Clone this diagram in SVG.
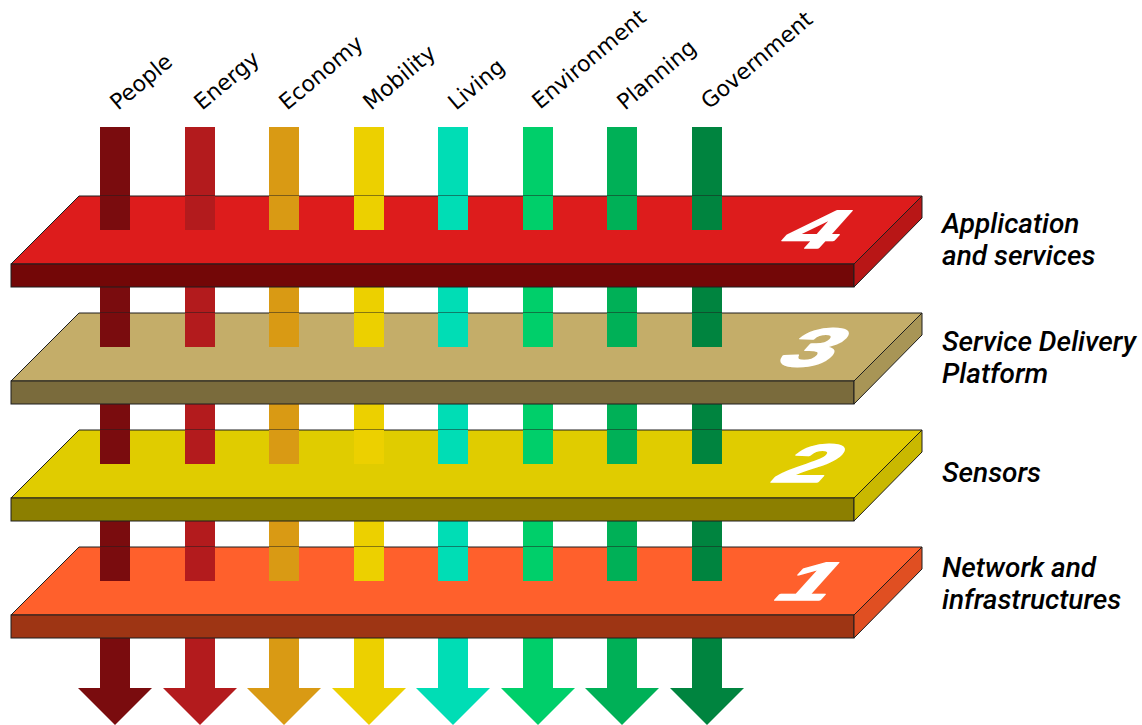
<svg xmlns="http://www.w3.org/2000/svg" width="1142" height="725" viewBox="0 0 1142 725">
<style>
.edge{stroke:#1e1e1e;stroke-width:1;stroke-linejoin:miter}
.cat{font-family:"DejaVu Sans",sans-serif;font-size:22px;fill:#000}
.lbl{font-family:Roboto,"Liberation Sans",sans-serif;font-style:italic;font-weight:500;font-size:28px;fill:#000}
.num{font-family:"Liberation Sans",Arial,sans-serif;font-weight:bold;font-size:54px;fill:#fff;stroke:#fff;stroke-width:1.6;stroke-linejoin:round}
.c1{fill:#7a0c0e}.c2{fill:#b31b1d}.c3{fill:#d99a14}.c4{fill:#ecd000}
.c5{fill:#00ddb5}.c6{fill:#00cf6a}.c7{fill:#00b057}.c8{fill:#00843f}
</style>
<rect width="1142" height="725" fill="#fff"/>

<!-- category labels -->
<g id="labels">
<text class="cat" transform="translate(118,111) rotate(-40)">People</text>
<text class="cat" transform="translate(202,111) rotate(-40)">Energy</text>
<text class="cat" transform="translate(287,111) rotate(-40)">Economy</text>
<text class="cat" transform="translate(371,111) rotate(-40)">Mobility</text>
<text class="cat" transform="translate(456,111) rotate(-40)">Living</text>
<text class="cat" transform="translate(540,110) rotate(-40)">Environment</text>
<text class="cat" transform="translate(625,111) rotate(-40)">Planning</text>
<text class="cat" transform="translate(709,110) rotate(-40)">Government</text>
</g>

<!-- vertical arrows (connectors) -->
<g id="connectors">
<path class="c1" d="M100 127H130V688H152L115 725L78 688H100Z"/>
<path class="c2" d="M185 127H215V688H237L200 725L163 688H185Z"/>
<path class="c3" d="M269 127H299V688H321L284 725L247 688H269Z"/>
<path class="c4" d="M354 127H384V688H406L369 725L332 688H354Z"/>
<path class="c5" d="M438 127H468V688H490L453 725L416 688H438Z"/>
<path class="c6" d="M523 127H553V688H575L538 725L501 688H523Z"/>
<path class="c7" d="M607 127H637V688H659L622 725L585 688H607Z"/>
<path class="c8" d="M692 127H722V688H744L707 725L670 688H692Z"/>
</g>

<!-- layer 4 -->
<g id="layer4">
<polygon class="edge" fill="#dd1c1c" points="11,264 79,196 922,196 854,264"/>
<rect class="edge" fill="#730707" x="11" y="264" width="843" height="23"/>
<polygon class="edge" fill="#b81616" points="854,264 922,196 922,218 854,287"/>
<g>
<rect class="c1" x="100" y="196" width="30" height="34"/><rect class="c2" x="185" y="196" width="30" height="34"/>
<rect class="c3" x="269" y="196" width="30" height="34"/><rect class="c4" x="354" y="196" width="30" height="34"/>
<rect class="c5" x="438" y="196" width="30" height="34"/><rect class="c6" x="523" y="196" width="30" height="34"/>
<rect class="c7" x="607" y="196" width="30" height="34"/><rect class="c8" x="692" y="196" width="30" height="34"/>
</g>
<text class="num" text-anchor="end" transform="translate(827,248) skewX(-42) scale(1.75,1)">4</text>
<text class="lbl" x="942" y="233">Application</text>
<text class="lbl" x="942" y="265">and services</text>
</g>

<!-- layer 3 -->
<g id="layer3">
<polygon class="edge" fill="#c4ad69" points="11,381 79,313 922,313 854,381"/>
<rect class="edge" fill="#7a6b3c" x="11" y="381" width="843" height="23"/>
<polygon class="edge" fill="#a89556" points="854,381 922,313 922,335 854,404"/>
<g>
<rect class="c1" x="100" y="313" width="30" height="34"/><rect class="c2" x="185" y="313" width="30" height="34"/>
<rect class="c3" x="269" y="313" width="30" height="34"/><rect class="c4" x="354" y="313" width="30" height="34"/>
<rect class="c5" x="438" y="313" width="30" height="34"/><rect class="c6" x="523" y="313" width="30" height="34"/>
<rect class="c7" x="607" y="313" width="30" height="34"/><rect class="c8" x="692" y="313" width="30" height="34"/>
</g>
<text class="num" text-anchor="end" transform="translate(825,366) skewX(-42) scale(1.75,1)">3</text>
<text class="lbl" x="942" y="351">Service Delivery</text>
<text class="lbl" x="942" y="383">Platform</text>
</g>

<!-- layer 2 -->
<g id="layer2">
<polygon class="edge" fill="#e0cc00" points="11,498 79,430 922,430 854,498"/>
<rect class="edge" fill="#8c7f00" x="11" y="498" width="843" height="23"/>
<polygon class="edge" fill="#c9b800" points="854,498 922,430 922,452 854,521"/>
<g>
<rect class="c1" x="100" y="430" width="30" height="34"/><rect class="c2" x="185" y="430" width="30" height="34"/>
<rect class="c3" x="269" y="430" width="30" height="34"/><rect class="c4" x="354" y="430" width="30" height="34"/>
<rect class="c5" x="438" y="430" width="30" height="34"/><rect class="c6" x="523" y="430" width="30" height="34"/>
<rect class="c7" x="607" y="430" width="30" height="34"/><rect class="c8" x="692" y="430" width="30" height="34"/>
</g>
<text class="num" text-anchor="end" transform="translate(821,482) skewX(-42) scale(1.75,1)">2</text>
<text class="lbl" x="942" y="482">Sensors</text>
</g>

<!-- layer 1 -->
<g id="layer1">
<polygon class="edge" fill="#ff602c" points="11,615 79,547 922,547 854,615"/>
<rect class="edge" fill="#9e3514" x="11" y="615" width="843" height="23"/>
<polygon class="edge" fill="#e04f22" points="854,615 922,547 922,569 854,638"/>
<g>
<rect class="c1" x="100" y="547" width="30" height="34"/><rect class="c2" x="185" y="547" width="30" height="34"/>
<rect class="c3" x="269" y="547" width="30" height="34"/><rect class="c4" x="354" y="547" width="30" height="34"/>
<rect class="c5" x="438" y="547" width="30" height="34"/><rect class="c6" x="523" y="547" width="30" height="34"/>
<rect class="c7" x="607" y="547" width="30" height="34"/><rect class="c8" x="692" y="547" width="30" height="34"/>
</g>
<text class="num" text-anchor="end" transform="translate(822,600) skewX(-42) scale(1.75,1)">1</text>
<text class="lbl" x="942" y="577">Network and</text>
<text class="lbl" x="942" y="609">infrastructures</text>
</g>
</svg>
